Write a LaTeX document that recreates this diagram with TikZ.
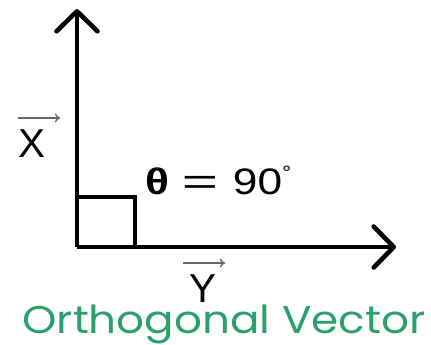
\documentclass[tikz,border=0pt]{standalone}
\usepackage{fontspec}
\setmainfont{Liberation Sans}
\newfontfamily\titlefont{Poppins}
\usetikzlibrary{arrows.meta,calc}
\definecolor{ovgreen}{RGB}{44,160,108}
\definecolor{bargray}{RGB}{95,112,95}

\begin{document}
\begin{tikzpicture}[x=0.02cm,y=-0.02cm,
  axis/.style={line width=2.6pt,arrows={-Straight Barb[length=0.4cm,width=0.82cm,round]}},
  vecbar/.style={line width=0.8pt,color=bargray,-{To[length=3pt,width=5pt]}},
  lbl/.style={inner sep=0pt,font=\fontsize{23}{23}\selectfont},
  title/.style={inner sep=0pt,text=ovgreen,font=\titlefont\fontsize{22}{22}\selectfont}]
\useasboundingbox (0,0) rectangle (431,344);
\coordinate (o) at (77,247); \coordinate (xtip) at (77,9); \coordinate (ytip) at (396,247);
\draw[axis] (o) -- (xtip); \draw[axis] (o) -- (ytip);
\draw[line width=2.6pt] ($(o)+(0,-50)$) -| ($(o)+(58,0)$);
\node[lbl,anchor=base] (lx) at (32,157) {X};
\node[lbl,anchor=base] (ly) at (203,302) {Y};
\draw[vecbar] ($(lx.base west)+(0,-39)$) -- ++(42,0);
\draw[vecbar] ($(ly.base west)+(-6,-39)$) -- ++(42,0);
\node[lbl,anchor=base west,font=\fontsize{21}{21}\selectfont] (ang) at (145,194)
  {\scalebox{1.2}[1]{\textbf{θ}\hspace{6pt}\scalebox{1.4}[1]{=}\hspace{7pt}90\raisebox{8pt}{\fontsize{11}{11}\selectfont°}}};
\node[title,anchor=base] (cap) at (224,333) {\scalebox{1.13}[1]{Orthogonal Vector}};
\end{tikzpicture}
\end{document}
